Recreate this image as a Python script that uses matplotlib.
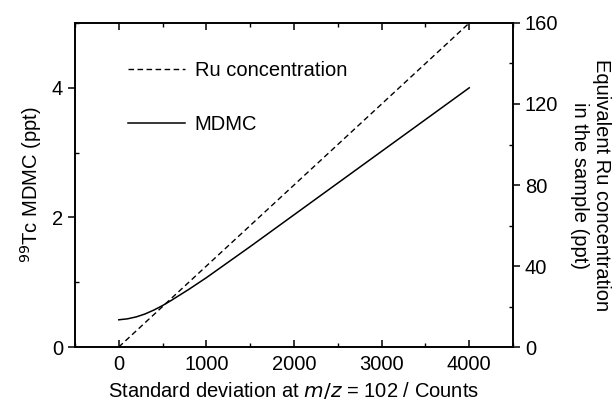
import matplotlib
matplotlib.use('Agg')
import matplotlib.pyplot as plt
from matplotlib.lines import Line2D
from matplotlib.ticker import MultipleLocator

plt.rcParams['font.family'] = ['Liberation Sans', 'DejaVu Sans']
plt.rcParams['font.size'] = 14.5

# Ru concentration (right axis, ppt)
ru_x = [0, 4000]
ru_y = [0, 160]

# MDMC (left axis, ppt)
mdmc_x = [0, 100, 200, 300, 400, 500, 600, 800, 1000, 1250, 1500,
          2000, 2500, 3000, 3500, 4000]
mdmc_y = [0.42, 0.435, 0.465, 0.51, 0.57, 0.64, 0.72, 0.89, 1.07, 1.31, 1.55,
          2.04, 2.53, 3.02, 3.51, 4.00]

fig = plt.figure(figsize=(6.13, 4.07), dpi=100)
ax = fig.add_axes([0.1223, 0.1474, 0.7147, 0.7961])
ax2 = ax.twinx()

ax.plot(mdmc_x, mdmc_y, color='black', lw=1.1)
ax2.plot(ru_x, ru_y, color='black', lw=1.0, ls=(0, (4, 2.5)))

ax.set_xlim(-500, 4500)
ax.set_ylim(0, 5)
ax2.set_ylim(0, 160)

ax.xaxis.set_major_locator(MultipleLocator(1000))
ax.xaxis.set_minor_locator(MultipleLocator(500))
ax.yaxis.set_major_locator(MultipleLocator(2))
ax.yaxis.set_minor_locator(MultipleLocator(1))
ax2.yaxis.set_major_locator(MultipleLocator(40))
ax2.yaxis.set_minor_locator(MultipleLocator(20))

ax.tick_params(axis='x', which='both', top=True, direction='in')
ax.tick_params(axis='x', which='major', length=5, width=1.1, pad=6)
ax.tick_params(axis='x', which='minor', length=3, width=1.0)
ax.tick_params(axis='y', which='major', direction='out', length=5, width=1.1)
ax.tick_params(axis='y', which='minor', direction='in', length=3, width=1.0)
ax2.tick_params(axis='y', which='major', direction='out', length=5, width=1.1)
ax2.tick_params(axis='y', which='minor', direction='in', length=3, width=1.0)
for a in (ax, ax2):
    for s in a.spines.values():
        s.set_linewidth(1.2)

ax.set_xlabel('Standard deviation at $m/z$ = 102 / Counts', labelpad=4)
ax.set_ylabel('$^{99}$Tc MDMC (ppt)', labelpad=6)
ax2.set_ylabel('Equivalent Ru concentration\nin the sample (ppt)',
               rotation=270, labelpad=38, linespacing=1.2)

handles = [Line2D([], [], color='black', lw=1.0, ls=(0, (4, 2.5))),
           Line2D([], [], color='black', lw=1.1)]
ax.legend(handles, ['Ru concentration', 'MDMC'], loc='upper left',
          bbox_to_anchor=(0.08, 0.94), frameon=False, handlelength=2.8,
          labelspacing=1.75, handletextpad=0.5)

fig.savefig('out.png', dpi=100)
